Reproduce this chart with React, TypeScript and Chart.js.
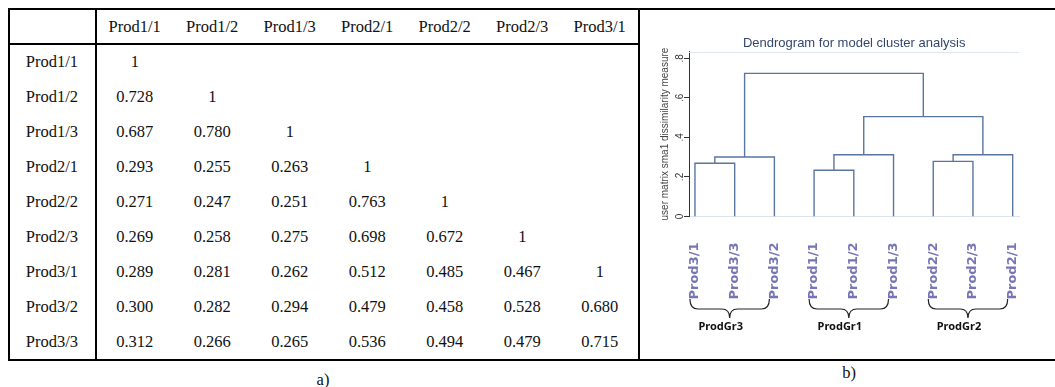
import React, { useEffect, useRef } from "react";
import { Chart, registerables } from "chart.js";

Chart.register(...registerables);

// ---------- table data ----------
const colLabels = ["Prod1/1", "Prod1/2", "Prod1/3", "Prod2/1", "Prod2/2", "Prod2/3", "Prod3/1"];
const rowLabels = ["Prod1/1", "Prod1/2", "Prod1/3", "Prod2/1", "Prod2/2", "Prod2/3", "Prod3/1", "Prod3/2", "Prod3/3"];
const row1 = [1];
const row2 = [0.728, 1];
const row3 = [0.687, 0.78, 1];
const row4 = [0.293, 0.255, 0.263, 1];
const row5 = [0.271, 0.247, 0.251, 0.763, 1];
const row6 = [0.269, 0.258, 0.275, 0.698, 0.672, 1];
const row7 = [0.289, 0.281, 0.262, 0.512, 0.485, 0.467, 1];
const row8 = [0.3, 0.282, 0.294, 0.479, 0.458, 0.528, 0.68];
const row9 = [0.312, 0.266, 0.265, 0.536, 0.494, 0.479, 0.715];
const tableRows = [row1, row2, row3, row4, row5, row6, row7, row8, row9];

// ---------- dendrogram data ----------
const leafLabels = ["Prod3/1", "Prod3/3", "Prod3/2", "Prod1/1", "Prod1/2", "Prod1/3", "Prod2/2", "Prod2/3", "Prod2/1"];
// merges: node ids 0..8 are leaves, merge k creates node 9+k
const mergeLeft = [0, 9, 3, 11, 6, 13, 12, 10];
const mergeRight = [1, 2, 4, 5, 7, 8, 14, 15];
const mergeHeight = [0.269, 0.301, 0.234, 0.312, 0.279, 0.312, 0.505, 0.724];
const yTickValues = [0, 0.2, 0.4, 0.6, 0.8];
const yTickLabels = ["0", ".2", ".4", ".6", ".8"];
const groupNames = ["ProdGr3", "ProdGr1", "ProdGr2"];
const groupStart = [0, 3, 6];
const groupEnd = [2, 5, 8];

const fmt = (v: number) => (v === 1 ? "1" : v.toFixed(3));

const lineColor = "rgb(88,118,160)";

function buildDatasets() {
  const nx: number[] = leafLabels.map((_, i) => i);
  const ny: number[] = leafLabels.map(() => 0);
  const sets: any[] = [];
  mergeLeft.forEach((l, k) => {
    const r = mergeRight[k];
    const h = mergeHeight[k];
    sets.push({
      data: [
        { x: nx[l], y: ny[l] },
        { x: nx[l], y: h },
        { x: nx[r], y: h },
        { x: nx[r], y: ny[r] },
      ],
      showLine: true,
      borderColor: lineColor,
      borderWidth: 1.4,
      pointRadius: 0,
      fill: false,
      tension: 0,
    });
    nx.push((nx[l] + nx[r]) / 2);
    ny.push(h);
  });
  return sets;
}

const extrasPlugin = {
  id: "extras",
  beforeDatasetsDraw(chart: any) {
    const { ctx, chartArea } = chart;
    ctx.save();
    ctx.strokeStyle = "#e1e7ef";
    ctx.lineWidth = 1;
    ctx.beginPath();
    ctx.moveTo(chartArea.left, Math.round(chartArea.top) + 0.5);
    ctx.lineTo(chartArea.right, Math.round(chartArea.top) + 0.5);
    ctx.stroke();
    ctx.restore();
  },
  afterDraw(chart: any) {
    const { ctx, chartArea } = chart;
    const xs = chart.scales.x;
    const top = chartArea.bottom + 82.5;
    const mid = top + 10;
    const tip = top + 19;
    const r = 8;
    ctx.save();
    ctx.strokeStyle = "#222";
    ctx.lineWidth = 1.2;
    groupNames.forEach((name, g) => {
      const x1 = xs.getPixelForValue(groupStart[g]) - 5;
      const x2 = xs.getPixelForValue(groupEnd[g]) - 5;
      const xm = (x1 + x2) / 2;
      ctx.beginPath();
      ctx.moveTo(x1, top);
      ctx.quadraticCurveTo(x1, mid, x1 + r, mid);
      ctx.lineTo(xm - r, mid);
      ctx.quadraticCurveTo(xm, mid, xm, tip);
      ctx.quadraticCurveTo(xm, mid, xm + r, mid);
      ctx.lineTo(x2 - r, mid);
      ctx.quadraticCurveTo(x2, mid, x2, top);
      ctx.stroke();
      ctx.fillStyle = "#111";
      ctx.font = 'bold 11px "Noto Sans", sans-serif';
      ctx.textAlign = "center";
      ctx.textBaseline = "middle";
      ctx.fillText(name, xm - 9, tip + 9);
    });
    ctx.restore();
  },
};

function Dendrogram() {
  const ref = useRef<HTMLCanvasElement | null>(null);
  useEffect(() => {
    if (!ref.current) return;
    const chart = new Chart(ref.current, {
      type: "scatter",
      data: { datasets: buildDatasets() },
      options: {
        animation: false,
        responsive: false,
        devicePixelRatio: 1,
        layout: { padding: 0 },
        plugins: {
          legend: { display: false },
          tooltip: { enabled: false },
          title: {
            display: true,
            text: "Dendrogram for model cluster analysis",
            fullSize: false,
            color: "#34476e",
            font: { family: '"Liberation Sans", Arial, sans-serif', size: 13, weight: "normal" },
            padding: { top: 26, bottom: 0 },
          },
        },
        scales: {
          x: {
            type: "linear",
            min: -0.15,
            max: 8.17,
            afterBuildTicks: (s: any) => {
              s.ticks = leafLabels.map((_, i) => ({ value: i }));
            },
            afterFit: (s: any) => {
              s.height = 142.5;
            },
            grid: { display: false, drawTicks: false },
            border: { display: true, color: "#dde3ec", width: 1 },
            ticks: {
              autoSkip: false,
              minRotation: 90,
              maxRotation: 90,
              padding: 26,
              color: "#7676b6",
              font: { family: '"DejaVu Sans", sans-serif', size: 13, weight: "bold" },
              callback: (v: any) => leafLabels[v] ?? "",
            },
          },
          y: {
            min: 0,
            max: 0.834,
            afterBuildTicks: (s: any) => {
              s.ticks = yTickValues.map((v) => ({ value: v }));
            },
            afterFit: (s: any) => {
              s.width = 48;
            },
            grid: { drawOnChartArea: false, drawTicks: true, tickLength: 5, color: "#333" },
            border: { display: true, color: "#333", width: 1 },
            ticks: {
              minRotation: 90,
              maxRotation: 90,
              crossAlign: "center",
              padding: 0,
              color: "#333",
              font: { family: '"Liberation Sans", Arial, sans-serif', size: 10 },
              callback: (v: any) => {
                const i = yTickValues.indexOf(v);
                return i >= 0 ? yTickLabels[i] : "";
              },
            },
            title: {
              display: true,
              text: "user matrix sma1 dissimilarity measure",
              color: "#444",
              font: { family: '"Liberation Sans", Arial, sans-serif', size: 10 },
              padding: { top: 18, bottom: 0 },
            },
          },
        },
      } as any,
      plugins: [extrasPlugin],
    });
    return () => chart.destroy();
  }, []);
  return <canvas ref={ref} width={414} height={349} style={{ width: 414, height: 349, display: "block" }} />;
}

const colX = (j: number) => 96 + 77.5 * (j + 0.5);
const rowY = (i: number) => 62 + 35 * i;

const cellStyle = (x: number, y: number): React.CSSProperties => ({
  position: "absolute",
  left: x,
  top: y,
  transform: "translate(-50%, -50%)",
  lineHeight: 1,
  whiteSpace: "nowrap",
  fontFamily: '"Liberation Serif", "Times New Roman", serif',
  fontSize: 16.5,
  color: "#111",
});

const lineStyle = (left: number, top: number, width: number, height: number): React.CSSProperties => ({
  position: "absolute",
  left,
  top,
  width,
  height,
  background: "#000",
});

export default function App() {
  return (
    <div style={{ position: "absolute", left: 0, top: 0, width: 1055, height: 387, background: "#fff", overflow: "hidden" }}>
      {/* frame lines */}
      <div style={lineStyle(8, 8, 1047, 2)} />
      <div style={lineStyle(8, 359, 1047, 2)} />
      <div style={lineStyle(8, 43, 632, 2)} />
      <div style={lineStyle(8, 8, 2, 353)} />
      <div style={lineStyle(95, 8, 2, 353)} />
      <div style={lineStyle(638, 8, 2, 353)} />
      {/* header */}
      {colLabels.map((c, j) => (
        <div key={"h" + j} style={cellStyle(colX(j), 26.5)}>{c}</div>
      ))}
      {rowLabels.map((r, i) => (
        <div key={"r" + i} style={cellStyle(52, rowY(i))}>{r}</div>
      ))}
      {tableRows.map((row, i) =>
        row.map((v, j) => (
          <div key={"c" + i + "_" + j} style={cellStyle(colX(j), rowY(i))}>{fmt(v)}</div>
        ))
      )}
      <div style={cellStyle(323, 380)}>a)</div>
      <div style={cellStyle(849, 373)}>b)</div>
      <div style={{ position: "absolute", left: 641, top: 10 }}>
        <Dendrogram />
      </div>
    </div>
  );
}
